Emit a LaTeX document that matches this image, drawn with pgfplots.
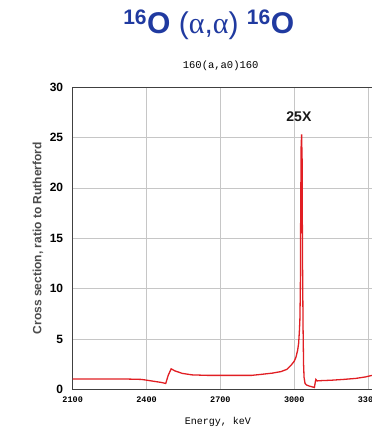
\documentclass[border=0pt]{standalone}
\usepackage{pgfplots}
\pgfplotsset{compat=1.18}
\usepackage{fontspec}
\setmainfont{Liberation Sans}
\newfontfamily\monof{Liberation Mono}
\newfontfamily\serifa{Liberation Serif}
\definecolor{titleblue}{RGB}{32,58,160}
\definecolor{curvered}{RGB}{225,30,35}
\begin{document}
\begin{tikzpicture}
\begin{axis}[name=ax, scale only axis, width=299.3pt, height=302.5pt,
  xmin=2100, xmax=3316, ymin=0, ymax=30,
  xtick={2100,2400,2700,3000,3300}, ytick={0,5,10,15,20,25,30},
  grid=major, grid style={gray!45, line width=0.6pt},
  major tick length=0pt,
  separate axis lines, axis x line*=box, axis y line*=left,
  axis line style={black!75, line width=0.8pt},
  /pgf/number format/assume math mode=true,
  /pgf/number format/1000 sep={},
  xticklabel style={font=\monof\bfseries\fontsize{8.5}{9}\selectfont, yshift=-4pt},
  yticklabel style={font=\bfseries\fontsize{12}{12}\selectfont, xshift=-6pt},
  xlabel={Energy, keV},
  xlabel style={font=\monof\fontsize{10}{10}\selectfont, at={(axis description cs:0.485,-0.107)}, anchor=center},
  ylabel={Cross section, ratio to Rutherford},
  ylabel style={font=\bfseries\fontsize{12}{12}\selectfont, text=black!70, at={(axis description cs:-0.116,0.5)}, anchor=center},
]
\addplot[curvered, line width=1.3pt] coordinates {
(2100,1.05) (2200,1.05) (2300,1.05) (2380,1.0) (2420,0.85) (2460,0.7) (2478,0.6) (2488,1.4) (2500,2.05) (2515,1.85) (2545,1.6) (2585,1.45) (2650,1.4) (2750,1.4) (2826,1.4) (2866,1.5) (2910,1.62) (2947,1.78) (2970,2.0) (2987,2.4) (3000,2.8) (3007,3.2) (3014,3.9) (3018,4.6) (3021,5.8) (3023,6.9) (3025,10) (3026,16) (3027,20) (3028,24) (3030,25.3) (3031,24) (3032,23) (3033,16.5) (3034,12) (3036,6) (3038,2.5) (3040,1.2) (3044,0.6) (3050,0.45) (3060,0.35) (3075,0.25) (3082,0.2) (3086,0.8) (3088,1.0) (3093,0.85) (3100,0.87) (3150,0.92) (3200,1.0) (3250,1.1) (3290,1.25) (3316,1.4)
};
\node[font=\bfseries\fontsize{14}{14}\selectfont, text=black!90] at (axis cs:3019,27.1) {25X};
\end{axis}
\node[font=\fontsize{30}{30}\selectfont, text=titleblue] at ([xshift=136pt, yshift=62pt]ax.north west) {\textsuperscript{\bfseries 16}\textbf{O} ({\serifa α},{\serifa α}) \textsuperscript{\bfseries 16}\textbf{O}};
\node[font=\monof\fontsize{10.5}{10.5}\selectfont] at ([xshift=148pt, yshift=21pt]ax.north west) {160(a,a0)160};
\pgfresetboundingbox
\path[use as bounding box] ([xshift=-72.7pt, yshift=-42.5pt]ax.south west) rectangle ([yshift=87pt]ax.north east);
\end{tikzpicture}
\end{document}
